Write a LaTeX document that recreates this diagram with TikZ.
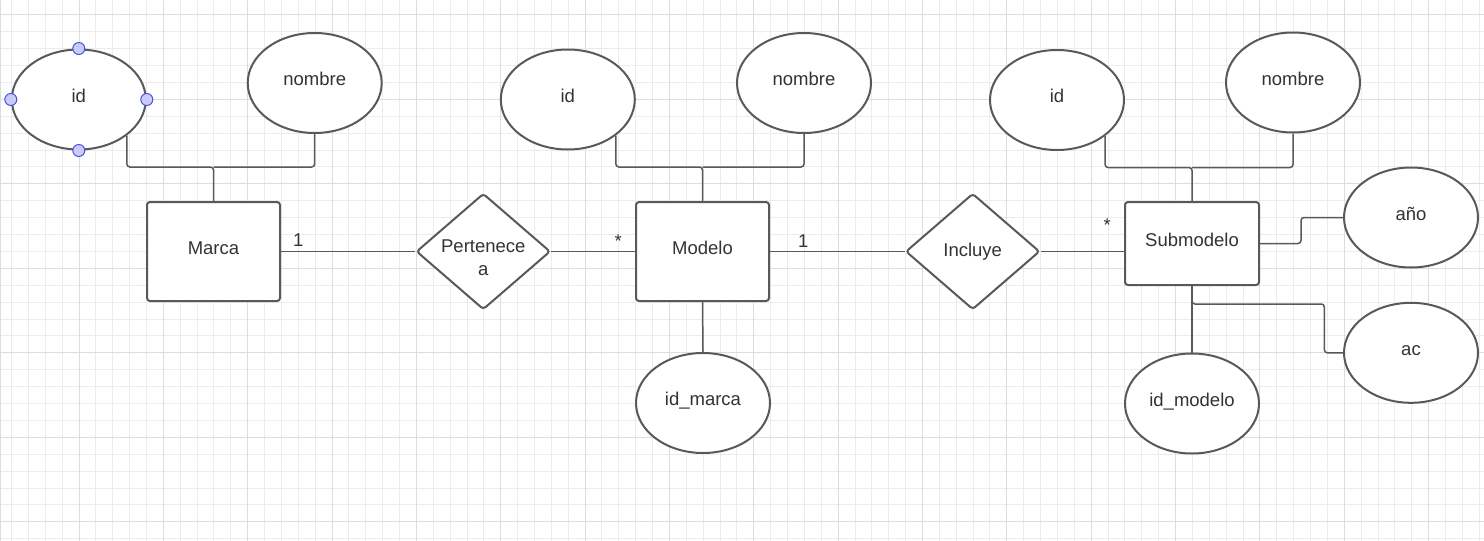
\documentclass[tikz,border=0pt]{standalone}
\usepackage{fontspec}
\setmainfont{Liberation Sans}
\usetikzlibrary{shapes.geometric}

\definecolor{linegray}{HTML}{595959}
\definecolor{textgray}{HTML}{333333}
\definecolor{gridminor}{HTML}{ECECEC}
\definecolor{gridmajor}{HTML}{DDDDDD}
\definecolor{handlefill}{HTML}{C9CCF8}
\definecolor{handleline}{HTML}{4B50D6}

\tikzset{
	entidad/.style={draw=linegray, line width=2pt, rounded corners=3pt, fill=white,
		minimum width=133pt, minimum height=99pt, inner sep=0pt,
		text height=9.25pt, text depth=3.3pt},
	atributo/.style={ellipse, draw=linegray, line width=2pt, fill=white,
		minimum width=134pt, minimum height=100pt, inner sep=0pt,
		text height=9.25pt, text depth=3.3pt},
	relacion/.style={diamond, draw=linegray, line width=2pt, rounded corners=3pt, fill=white,
		minimum width=134pt, minimum height=116pt, inner sep=0pt, align=center},
	conn/.style={draw=linegray, line width=1.5pt, rounded corners=3pt},
	card/.style={anchor=base, inner sep=0pt},
	handle/.style={circle, draw=handleline, fill=handlefill, line width=1pt,
		minimum size=12pt, inner sep=0pt}
}

\begin{document}
\begin{tikzpicture}[x=1pt, y=-1pt,
	every node/.append style={font=\fontsize{18.5pt}{22.6pt}\selectfont, text=textgray}]
		%%%%% START %%%%%
		
		\fill[white] (0, 0) rectangle (1484, 541);
		\useasboundingbox (0, 0) rectangle (1484, 541);
		
		% grid
		\foreach \i in {-4,...,83}
			\draw[gridminor, line width=1pt] ({79+16.87*\i}, 0) -- ({79+16.87*\i}, 541);
		\foreach \j in {-5,...,26}
			\draw[gridminor, line width=1pt] (0, {99.3+16.9*\j}) -- (1484, {99.3+16.9*\j});
		\foreach \i in {0,...,16}
			\draw[gridmajor, line width=1pt] ({79+84.35*\i}, 0) -- ({79+84.35*\i}, 541);
		\foreach \j in {-1,...,5}
			\draw[gridmajor, line width=1pt] (0, {99.3+84.5*\j}) -- (1484, {99.3+84.5*\j});
		\draw[gridmajor, line width=1pt] (0.6, 0) -- (0.6, 541);
		
		% entidades
		\node[entidad] (marca) at (213.5, 251.5) {Marca};
		\node[entidad] (modelo) at (702.5, 251.5) {Modelo};
		\node[entidad, minimum width=134pt, minimum height=83pt] (submodelo) at (1192, 243.5) {Submodelo};
		
		% relaciones
		\node[relacion, text height=48pt, text depth=0pt, inner ysep=-9pt] (pertenece) at (483.3, 251.5) {Pertenece\\a};
		\node[relacion] (incluye) at (972.7, 251.5) {Incluye};
		
		% atributos
		\node[atributo] (idMarca) at (78.8, 99.5) {id};
		\node[atributo] (nombreMarca) at (314.7, 83) {nombre};
		\node[atributo] (idModelo) at (567.8, 99.5) {id};
		\node[atributo] (nombreModelo) at (804, 83) {nombre};
		\node[atributo] (idMarcaFk) at (703, 403) {id\_marca};
		\node[atributo] (idSub) at (1057, 100) {id};
		\node[atributo] (nombreSub) at (1293, 82.5) {nombre};
		\node[atributo] (anio) at (1411, 217.5) {año};
		\node[atributo] (ac) at (1411, 352.8) {ac};
		\node[atributo] (idModeloFk) at (1192, 403.5) {id\_modelo};
		
		% conectores de atributos
		\coordinate (jMarca) at (213.5, 167);
		\coordinate (jModelo) at (702.5, 167);
		\coordinate (jSub) at (1192, 167.5);
		\coordinate (jAc) at (1324.3, 304);
		
		\draw[conn] (idMarca.south east) |- (jMarca) -- (marca.north);
		\draw[conn] (nombreMarca.south) |- (jMarca);
		\draw[conn] (idModelo.south east) |- (jModelo) -- (modelo.north);
		\draw[conn] (nombreModelo.south) |- (jModelo);
		\draw[conn] (modelo.south) -- (idMarcaFk.north);
		\draw[conn] (idSub.south east) |- (jSub) -- (submodelo.north);
		\draw[conn] (nombreSub.south) |- (jSub);
		\draw[conn] (submodelo.south) -- (idModeloFk.north);
		\draw[conn] (submodelo.east) -- ++(41, 0) |- (anio.west);
		\draw[conn] (submodelo.south) |- (jAc) |- (ac.west);
		
		% relaciones
		\draw[conn] (marca.east) -- (pertenece.west);
		\draw[conn] (pertenece.east) -- (modelo.west);
		\draw[conn] (modelo.east) -- (incluye.west);
		\draw[conn] (incluye.east) -- (incluye.east -| submodelo.west);
		
		% cardinalidades
		\node[card] (cardMarca) at (298.3, 246.8) {1};
		\node[card] (cardModeloA) at (618.3, 247.3) {*};
		\node[card] (cardModeloB) at (803.3, 247.3) {1};
		\node[card] (cardSub) at (1107.3, 231) {*};
		
		% seleccion
		\node[handle] (hNorte) at (idMarca.north) {};
		\node[handle] (hSur) at (idMarca.south) {};
		\node[handle] (hEste) at (idMarca.east) {};
		\node[handle] (hOeste) at (idMarca.west) {};
		
		%%%%% END %%%%%
\end{tikzpicture}
\end{document}
